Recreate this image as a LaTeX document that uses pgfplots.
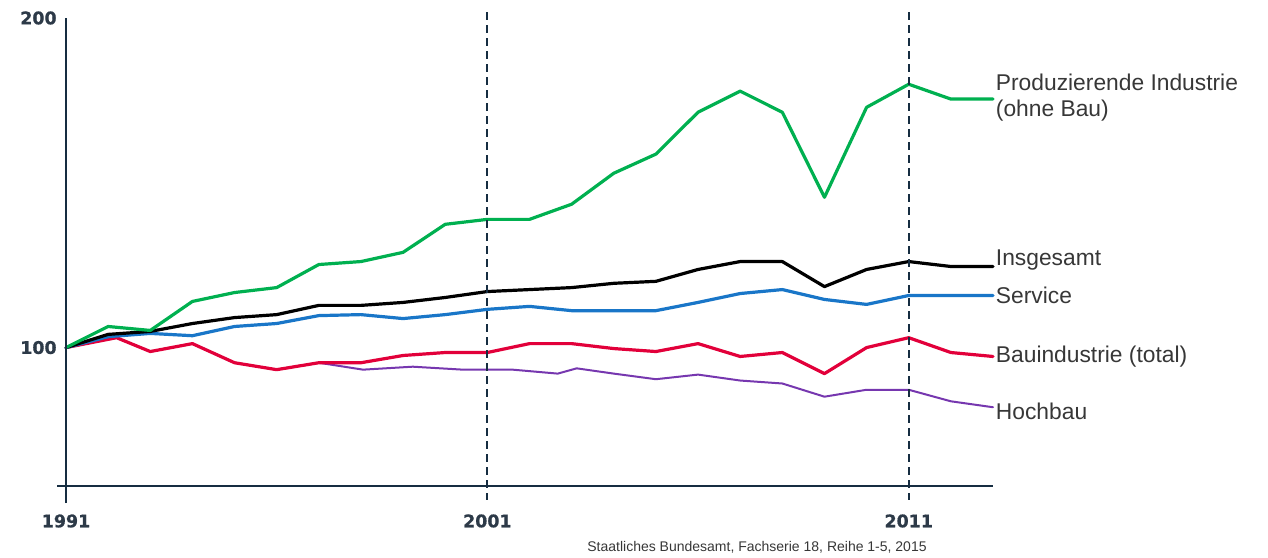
\documentclass[border=0pt]{standalone}
\usepackage{pgfplots}
\pgfplotsset{compat=1.18}
\usepackage{fontspec}
\setmainfont{Liberation Sans}
\newfontfamily\tickfont[BoldFeatures={FakeBold=0.8}]{DejaVu Sans}
\definecolor{cgreen}{RGB}{0,176,80}
\definecolor{cblue}{RGB}{25,118,200}
\definecolor{cred}{RGB}{226,0,58}
\definecolor{cpurple}{RGB}{118,55,175}
\definecolor{axisc}{RGB}{22,45,65}
\definecolor{tickc}{RGB}{45,58,72}
\definecolor{labc}{RGB}{55,55,55}
\begin{document}
\begin{tikzpicture}
\useasboundingbox (0,0) rectangle (634pt,278.5pt);
\begin{axis}[
  at={(33pt,35.5pt)}, anchor=south west,
  scale only axis, width=463.5pt, height=234pt,
  xmin=1991, xmax=2013, ymin=58, ymax=200,
  axis line style={draw=none},
  major tick length=0pt,
  xtick={1991,2001,2011}, xticklabels={1991,2001,2011},
  ytick={100,200}, yticklabels={100,200},
  tick label style={font=\tickfont\bfseries\fontsize{8.7pt}{10pt}\selectfont, text=tickc},
  xticklabel style={anchor=north, inner sep=0pt, yshift=-14pt},
  yticklabel style={anchor=east, inner sep=0pt, xshift=-4.5pt},
  clip=false,
  every axis plot/.append style={line join=round, line cap=round},
]
% Hochbau
\addplot[cpurple, line width=1pt] coordinates {
(1991,100) (1992.2,103.0) (1993,98.8) (1994,101.2) (1995,95.4) (1996,93.3) (1997,95.4)
(1998.05,93.3) (1999.23,94.2) (2000.42,93.3) (2001.6,93.3) (2002.67,92.1) (2003.12,93.7)
(2004,92.1) (2005,90.4) (2006,91.8) (2007,90.0) (2008,89.1) (2009,85.1) (2010,87.2)
(2011,87.2) (2012,83.7) (2013,81.9)};
% Bauindustrie
\addplot[cred, line width=1.6pt] coordinates {
(1991,100) (1992.2,103.0) (1993,98.8) (1994,101.2) (1995,95.4) (1996,93.3) (1997,95.4)
(1998,95.4) (1999,97.6) (2000,98.5) (2001,98.5) (2002,101.2) (2003,101.2) (2004,99.7)
(2005,98.8) (2006,101.2) (2007,97.3) (2008,98.5) (2009,92.1) (2010,100.0) (2011,103.0)
(2012,98.5) (2013,97.3)};
% Service
\addplot[cblue, line width=1.6pt] coordinates {
(1991,100) (1992,103.3) (1993,104.3) (1994,103.6) (1995,106.4) (1996,107.3) (1997,109.7)
(1998,110.0) (1999,108.8) (2000,110.0) (2001,111.6) (2002,112.5) (2003,111.2) (2004,111.2)
(2005,111.2) (2006,113.7) (2007,116.4) (2008,117.6) (2009,114.6) (2010,113.1) (2011,115.8)
(2012,115.8) (2013,115.8)};
% Insgesamt
\addplot[black, line width=1.6pt] coordinates {
(1991,100) (1992,104.0) (1993,104.9) (1994,107.3) (1995,109.1) (1996,110.0) (1997,112.8)
(1998,112.8) (1999,113.7) (2000,115.2) (2001,117.0) (2002,117.6) (2003,118.2) (2004,119.5)
(2005,120.1) (2006,123.7) (2007,126.1) (2008,126.1) (2009,118.5) (2010,123.7) (2011,126.1)
(2012,124.6) (2013,124.6)};
% Produzierende Industrie
\addplot[cgreen, line width=1.6pt] coordinates {
(1991,100) (1992,106.4) (1993,105.2) (1994,114.0) (1995,116.7) (1996,118.2) (1997,125.2)
(1998,126.1) (1999,128.9) (2000,137.4) (2001,138.9) (2002,138.9) (2003,143.5) (2004,152.9)
(2005,158.7) (2006,171.4) (2007,177.8) (2008,171.4) (2009,145.6) (2010,172.9) (2011,179.9)
(2012,175.4) (2013,175.4)};
% axes
\draw[axisc, line width=1.3pt] (axis cs:1991,52.8) -- (axis cs:1991,200);
\draw[axisc, line width=1.3pt] (axis cs:1990.79,58) -- (axis cs:2013,58);
\draw[axisc, line width=1pt, dash pattern=on 4pt off 2.5pt] (axis cs:2001,201.8) -- (axis cs:2001,53.7);
\draw[axisc, line width=1pt, dash pattern=on 4pt off 2.5pt] (axis cs:2011,201.8) -- (axis cs:2011,53.7);
% labels
\begin{scope}[every node/.style={anchor=west, inner sep=0pt, text=labc, font=\fontsize{11.4pt}{13pt}\selectfont}]
\node at (axis cs:2013.06,180.5) {Produzierende Industrie};
\node at (axis cs:2013.06,172.0) {(ohne Bau)};
\node at (axis cs:2013.06,126.7) {Insgesamt};
\node at (axis cs:2013.06,115.8) {Service};
\node at (axis cs:2013.06,97.3) {Bauindustrie (total)};
\node at (axis cs:2013.06,80.5) {Hochbau};
\end{scope}
\end{axis}
\node[text=labc, font=\fontsize{7pt}{8pt}\selectfont, inner sep=0pt] at (378.5pt,5pt) {Staatliches Bundesamt, Fachserie 18, Reihe 1-5, 2015};
\end{tikzpicture}
\end{document}
